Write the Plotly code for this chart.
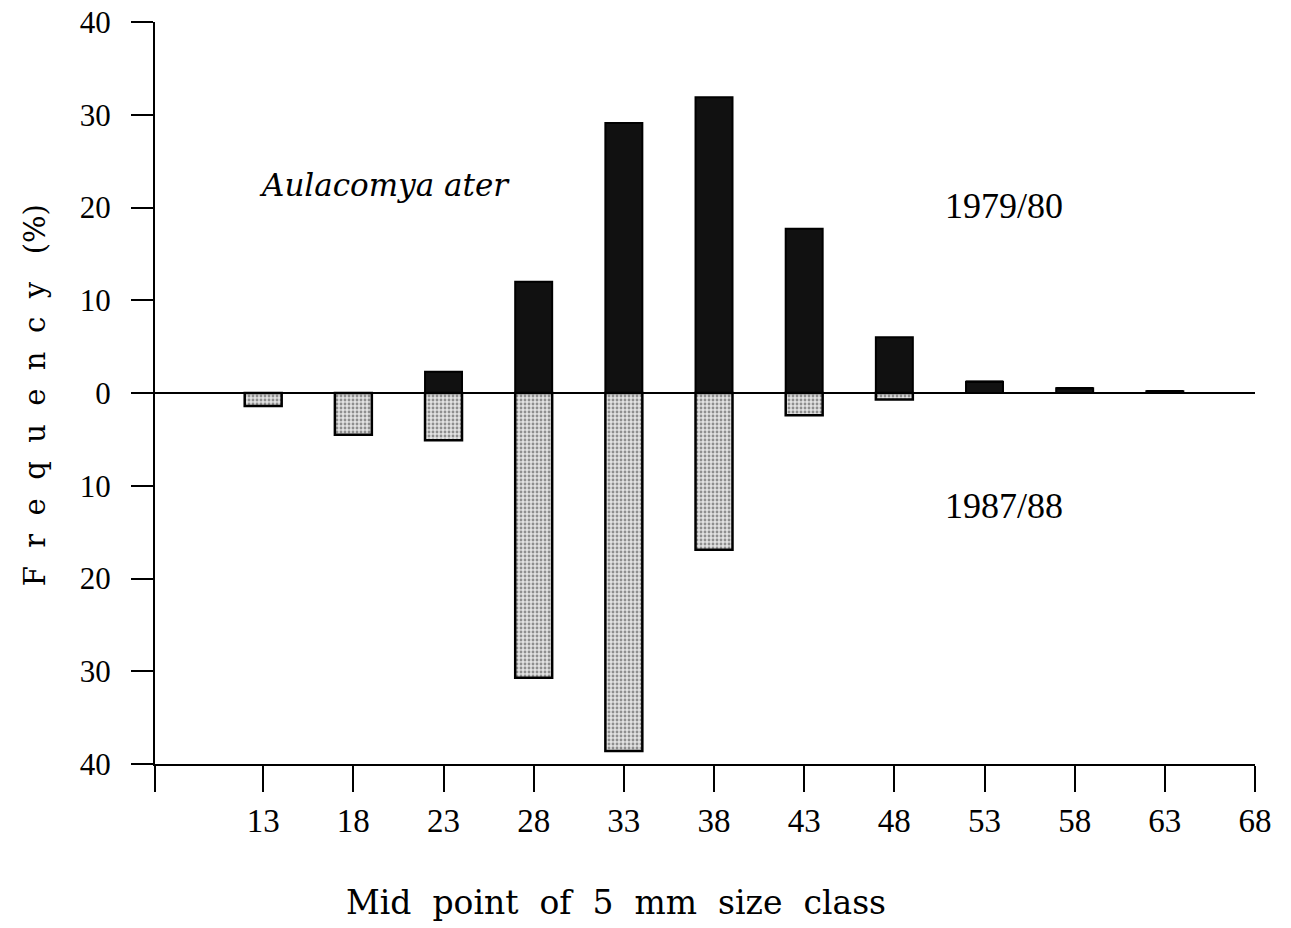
import plotly.graph_objects as go

size_class = [13, 18, 23, 28, 33, 38, 43, 48, 53, 58, 63]
freq_1979 = [0, 0, 2.3, 12.0, 29.1, 31.9, 17.7, 6.0, 1.2, 0.5, 0.2]
freq_1987 = [1.4, 4.5, 5.1, 30.7, 38.6, 16.9, 2.4, 0.7, 0, 0, 0]
y_tickvals = [-40, -30, -20, -10, 0, 10, 20, 30, 40]
y_ticktext = [str(abs(v)) for v in y_tickvals]
x_tickvals = [13, 18, 23, 28, 33, 38, 43, 48, 53, 58, 63, 68]

fig = go.Figure()
fig.add_trace(go.Bar(
    x=size_class, y=freq_1979, width=2.05, name="1979/80",
    marker=dict(color="#111111", line=dict(color="black", width=2)),
))
fig.add_trace(go.Bar(
    x=size_class, y=[-v for v in freq_1987], width=2.05, name="1987/88",
    marker=dict(color="white", line=dict(color="black", width=2.5),
                pattern=dict(shape=".", fgcolor="#3a3a3a", bgcolor="#e2e2e2",
                             size=4, solidity=0.4)),
))

fig.update_layout(
    width=1291, height=928, barmode="relative", showlegend=False,
    plot_bgcolor="white", paper_bgcolor="white",
    margin=dict(l=155, r=36, t=22, b=164),
    font=dict(family="Liberation Serif", color="black"),
)
fig.update_xaxes(
    range=[7, 68], tickmode="array", tickvals=[7] + x_tickvals,
    ticktext=[""] + [str(v) for v in x_tickvals],
    ticks="outside", ticklen=26, tickwidth=2, tickcolor="black",
    showline=True, linecolor="black", linewidth=2, showgrid=False, zeroline=False,
    tickfont=dict(family="Liberation Serif", size=33), automargin=False,
)
fig.update_yaxes(
    range=[-40, 40], tickmode="array", tickvals=y_tickvals, ticktext=y_ticktext,
    ticks="outside", ticklen=22, tickwidth=2, tickcolor="black",
    showline=True, linecolor="black", linewidth=2, showgrid=False,
    zeroline=True, zerolinecolor="black", zerolinewidth=2,
    tickfont=dict(family="Liberation Serif", size=31),
    ticklabelstandoff=14, automargin=False,
)
fig.add_annotation(xref="paper", yref="paper", x=-0.109, y=0.497,
                   text="F  r  e  q  u  e  n  c  y   (%)", textangle=-90,
                   showarrow=False, xanchor="center", yanchor="middle",
                   font=dict(family="DejaVu Serif", size=29))
fig.add_annotation(xref="paper", yref="paper", x=0.419, y=-0.187,
                   text="Mid  point  of  5  mm  size  class",
                   showarrow=False, xanchor="center", yanchor="middle",
                   font=dict(family="DejaVu Serif", size=33))
fig.add_annotation(x=19.75, y=22.4, text="<i>Aulacomya ater</i>", showarrow=False,
                   font=dict(family="DejaVu Serif", size=31))
fig.add_annotation(x=54.1, y=20.2, text="1979/80", showarrow=False,
                   font=dict(family="Liberation Serif", size=36))
fig.add_annotation(x=54.1, y=-12.2, text="1987/88", showarrow=False,
                   font=dict(family="Liberation Serif", size=36))
fig.write_html("out.html")
